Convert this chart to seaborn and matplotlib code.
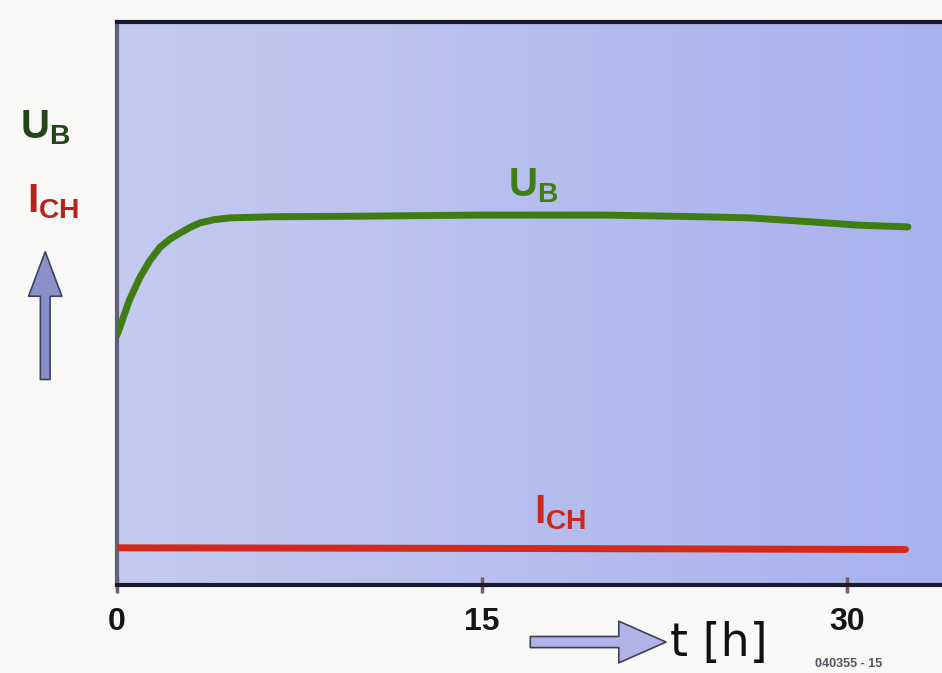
import numpy as np
import pandas as pd
import matplotlib.pyplot as plt
import seaborn as sns

# values (y in % of the plot height)
t_ub = [0, 0.12, 0.5, 0.95, 1.35, 1.77, 2.2, 2.59, 3.0, 3.41, 4.0, 4.64, 6.4, 10, 15, 20, 24, 26, 28.5, 30.5, 32.5]
ub = [44.4, 45.8, 50.5, 54.7, 57.6, 60.0, 61.5, 62.5, 63.5, 64.3, 64.9, 65.2, 65.4, 65.5, 65.7, 65.7, 65.4, 65.2, 64.5, 63.9, 63.6]
t_ich = [0, 15, 32.4]
ich = [6.6, 6.5, 6.3]
xticks = [0, 15, 30]

sns.set_style("white")
plt.rcParams["font.family"] = ["Liberation Sans", "DejaVu Sans"]
plt.rcParams["mathtext.fontset"] = "custom"
plt.rcParams["mathtext.rm"] = "Liberation Sans"
plt.rcParams["mathtext.it"] = "Liberation Sans"
plt.rcParams["mathtext.bf"] = "Liberation Sans:bold"

fig = plt.figure(figsize=(9.42, 6.73), dpi=100, facecolor="#f8f8f6")
ax = fig.add_axes([0.1242, 0.1308, 0.8758, 0.8366])

# light periwinkle background with a soft gradient
grad = np.linspace(0, 1, 256).reshape(1, -1)
ax.imshow(grad, extent=[0, 33.9, 0, 100], aspect="auto", zorder=0,
          cmap=plt.matplotlib.colors.LinearSegmentedColormap.from_list("bg", ["#c4caf0", "#a8b2ee"]))

ub_df = pd.DataFrame({"t": t_ub, "v": ub})
ich_df = pd.DataFrame({"t": t_ich, "v": ich})
sns.lineplot(data=ub_df, x="t", y="v", ax=ax, color="#3f7d12", lw=5, zorder=3)
sns.lineplot(data=ich_df, x="t", y="v", ax=ax, color="#d3281a", lw=5, zorder=3)

ax.set_xlim(0, 33.9)
ax.set_ylim(0, 100)
ax.set_xlabel("")
ax.set_ylabel("")
ax.set_xticks(xticks)
ax.set_xticklabels(["0", "15", "30"], fontsize=23, fontweight="bold", color="#151515")
ax.set_yticks([])
ax.tick_params(axis="x", bottom=True, direction="inout", length=12, width=2.5, color="#7a5a6a", pad=10)
ax.spines["right"].set_visible(False)
for s in ["top", "bottom"]:
    ax.spines[s].set_color("#1a1a2a")
    ax.spines[s].set_linewidth(3)
ax.spines["left"].set_color("#60607a")
ax.spines["left"].set_linewidth(3)

# curve labels
ax.text(17.1, 71.0, r"$\mathbf{U}_{\mathbf{B}}$", color="#3f7d12", fontsize=29, ha="center", va="center")
ax.text(18.2, 12.8, r"$\mathbf{I}_{\mathbf{CH}}$", color="#c8281e", fontsize=29, ha="center", va="center")

# left axis labels and arrow
fig.text(0.048, 0.81, r"$\mathbf{U}_{\mathbf{B}}$", color="#24441a", fontsize=29, ha="center", va="center")
fig.text(0.056, 0.70, r"$\mathbf{I}_{\mathbf{CH}}$", color="#b8221a", fontsize=29, ha="center", va="center")
fig.add_artist(plt.matplotlib.patches.FancyArrowPatch(
    (0.048, 0.432), (0.048, 0.63), transform=fig.transFigure,
    arrowstyle="simple,head_width=1.2,head_length=1.6,tail_width=0.35",
    mutation_scale=20, fc="#8a90c8", ec="#404060", lw=1.2))

# time arrow and label
fig.add_artist(plt.matplotlib.patches.FancyArrowPatch(
    (0.56, 0.046), (0.71, 0.046), transform=fig.transFigure,
    arrowstyle="simple,head_width=1.5,head_length=1.7,tail_width=0.4",
    mutation_scale=20, fc="#b0b4e8", ec="#404050", lw=1.2))
fig.text(0.711, 0.044, "t [h]", fontsize=33, ha="left", va="center", color="#111111",
         family="DejaVu Sans")
fig.text(0.865, 0.004, "040355 - 15", fontsize=9, fontweight="bold", color="#555560",
         ha="left", va="bottom")

fig.savefig("out.png", dpi=100, facecolor=fig.get_facecolor())
